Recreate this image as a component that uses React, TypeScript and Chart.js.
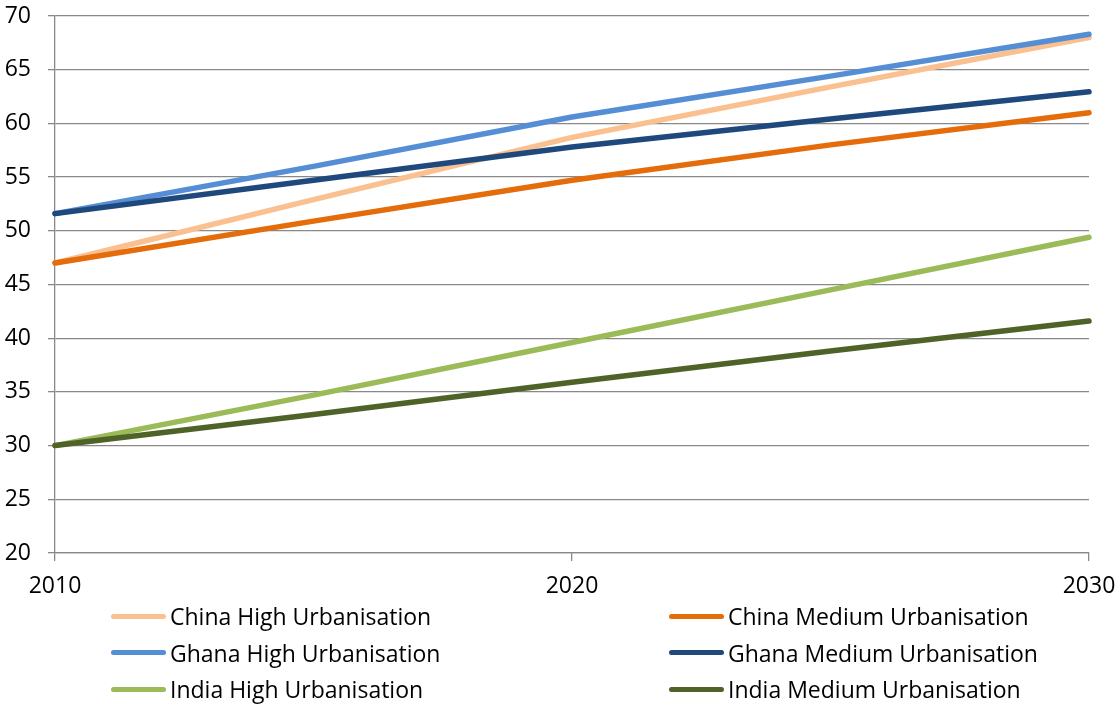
import React, { useEffect, useRef } from "react";
import { Chart, registerables } from "chart.js";

Chart.register(...registerables);

const years = [2010, 2015, 2020, 2025, 2030];
const xTicks = [2010, 2020, 2030];

const seriesNames = [
  "China High Urbanisation",
  "China Medium Urbanisation",
  "Ghana High Urbanisation",
  "Ghana Medium Urbanisation",
  "India High Urbanisation",
  "India Medium Urbanisation",
];

const chinaHigh = [47.0, 52.9, 58.7, 63.4, 68.0];
const chinaMedium = [47.0, 50.9, 54.7, 58.0, 61.0];
const ghanaHigh = [51.6, 56.0, 60.6, 64.4, 68.3];
const ghanaMedium = [51.6, 54.7, 57.8, 60.4, 62.95];
const indiaHigh = [30.0, 34.7, 39.6, 44.5, 49.4];
const indiaMedium = [30.0, 32.9, 35.9, 38.8, 41.6];

const seriesValues = [chinaHigh, chinaMedium, ghanaHigh, ghanaMedium, indiaHigh, indiaMedium];
const seriesColors = ["#FAC090", "#E46C0A", "#558ED5", "#1F497D", "#9BBB59", "#4F6228"];

const FONT = "'Open Sans', 'Noto Sans', sans-serif";
const FONT_SIZE = 23;

export default function App() {
  const ref = useRef<HTMLCanvasElement | null>(null);

  useEffect(() => {
    if (!ref.current) return;
    const chart = new Chart(ref.current, {
      type: "line",
      data: {
        datasets: seriesNames.map((name, i) => ({
          label: name,
          data: years.map((yr, j) => ({ x: yr, y: seriesValues[i][j] })),
          borderColor: seriesColors[i],
          backgroundColor: seriesColors[i],
          borderWidth: 5.5,
          borderCapStyle: "round" as const,
          borderJoinStyle: "round" as const,
          pointRadius: 0,
          tension: 0,
          fill: false,
          clip: false as any,
          order: seriesNames.length - 1 - i,
        })),
      },
      options: {
        animation: false,
        responsive: false,
        maintainAspectRatio: false,
        layout: { padding: { top: 16, right: 28, bottom: 0, left: 0 } },
        plugins: { legend: { display: false }, tooltip: { enabled: false } },
        scales: {
          x: {
            type: "linear",
            min: 2010,
            max: 2030,
            afterBuildTicks: (scale: any) => {
              scale.ticks = xTicks.map((v) => ({ value: v }));
            },
            afterFit: (scale: any) => {
              scale.height = 151;
              scale.paddingLeft = 0;
              scale.paddingRight = 0;
            },
            ticks: {
              color: "#000",
              font: { family: FONT, size: FONT_SIZE },
              padding: 12,
              maxRotation: 0,
              autoSkip: false,
              callback: (v: any) => String(v),
            },
            grid: {
              drawOnChartArea: false,
              drawTicks: true,
              tickLength: 8,
              color: "#898989",
              lineWidth: 1.3,
            },
            border: { display: true, color: "#898989", width: 1.3 },
          },
          y: {
            min: 20,
            max: 70,
            afterFit: (scale: any) => {
              scale.width = 55;
              scale.paddingTop = 0;
              scale.paddingBottom = 0;
            },
            ticks: {
              stepSize: 5,
              color: "#000",
              font: { family: FONT, size: FONT_SIZE },
              padding: 17,
            },
            grid: {
              drawOnChartArea: true,
              drawTicks: true,
              tickLength: 7,
              color: "#898989",
              lineWidth: 1.3,
            },
            border: { display: true, color: "#898989", width: 1.3 },
          },
        },
      },
    });
    return () => chart.destroy();
  }, []);

  const legendCols = [111, 669];
  const legendRows = [616, 652.5, 689];

  return (
    <div style={{ position: "absolute", left: 0, top: 0, width: 1117, height: 704, background: "#fff" }}>
      <canvas ref={ref} width={1117} height={704} style={{ position: "absolute", left: 0, top: 0 }} />
      {seriesNames.map((name, i) => {
        const col = i % 2;
        const row = Math.floor(i / 2);
        return (
          <div
            key={name}
            style={{
              position: "absolute",
              left: legendCols[col],
              top: legendRows[row] - 16,
              height: 32,
              display: "flex",
              alignItems: "center",
              fontFamily: FONT,
              fontSize: FONT_SIZE,
              color: "#000",
              whiteSpace: "nowrap",
            }}
          >
            <span
              style={{
                display: "inline-block",
                width: 55,
                height: 5,
                borderRadius: 3,
                background: seriesColors[i],
                marginRight: 4,
              }}
            />
            <span>{name}</span>
          </div>
        );
      })}
    </div>
  );
}
